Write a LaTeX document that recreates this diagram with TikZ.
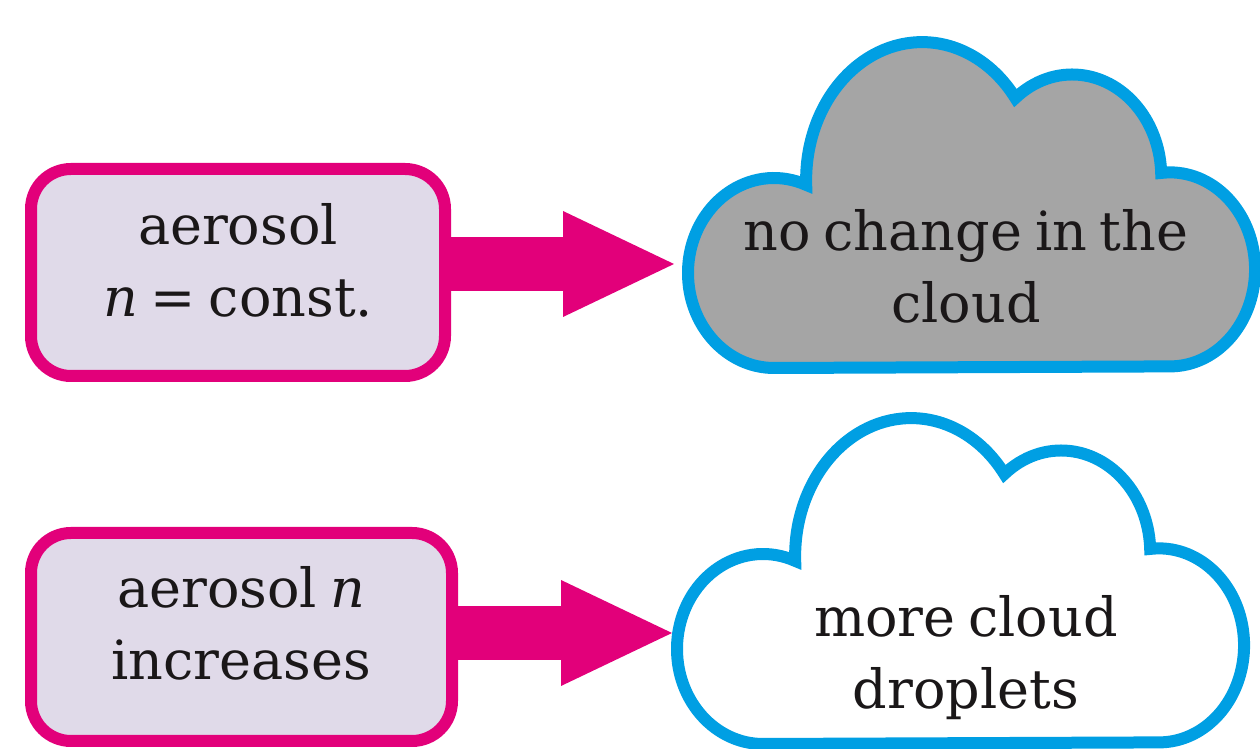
\documentclass[tikz,border=0pt]{standalone}
\usepackage{tikz}
\usepackage{fontspec}
\setmainfont{DejaVu Serif}[WordSpace=0.75]
\usetikzlibrary{arrows.meta}
\definecolor{boxpink}{HTML}{E2007A}
\definecolor{boxfill}{HTML}{E0DAE9}
\definecolor{cloudblue}{HTML}{009FE3}
\definecolor{cloudgrey}{HTML}{A5A5A5}
\definecolor{inkblack}{HTML}{1A1718}
\def\cloudoutline{(774,381) arc (270:68:86 and 95) arc (182:36.5:116 and 138) arc (129.7:2:89 and 102) arc (96:-90:85 and 97) -- cycle}
\tikzset{
	aerobox/.style={draw=boxpink, fill=boxfill, line width=6pt, rounded corners=20pt},
	cloudline/.style={draw=cloudblue, line width=6pt},
	bigarrow/.style={boxpink, line width=27pt, -{Triangle[length=55.5pt,width=53pt,line width=0pt]}},
	lbl/.style={align=center, text=inkblack, font=\fontsize{27}{36}\selectfont}
}

\begin{document}
\begin{tikzpicture}[x=0.5pt, y=0.5pt]
	%%%%% START %%%%%
	\useasboundingbox (0,0) rectangle (1260,749);
	
	% boxes
	\node[aerobox, minimum width=207pt, minimum height=103.5pt] (box1) at (238,476.5) {};
	\node[aerobox, minimum width=210.5pt, minimum height=104pt] (box2) at (241.5,112) {};
	\node[lbl] (txt1) at (238,489) {aerosol\\\textit{n} = const.};
	\node[lbl] (txt2) at (241,125.5) {aerosol \textit{n}\\increases};
	
	% clouds
	\draw[cloudline, fill=cloudgrey] \cloudoutline;
	\draw[cloudline, fill=white, shift={(-11,-376)}] \cloudoutline;
	\node[lbl] (txt3) at (966,482.5) {no change in the\\cloud};
	\node[lbl] (txt4) at (966,91.2) {more cloud\\droplets};
	
	% arrows
	\coordinate (tip1) at (674,485);
	\coordinate (tip2) at (672,116);
	\draw[bigarrow] (box1.east |- tip1) -- (tip1);
	\draw[bigarrow] (box2.east |- tip2) -- (tip2);
	
	%%%%% END %%%%%
\end{tikzpicture}
\end{document}
